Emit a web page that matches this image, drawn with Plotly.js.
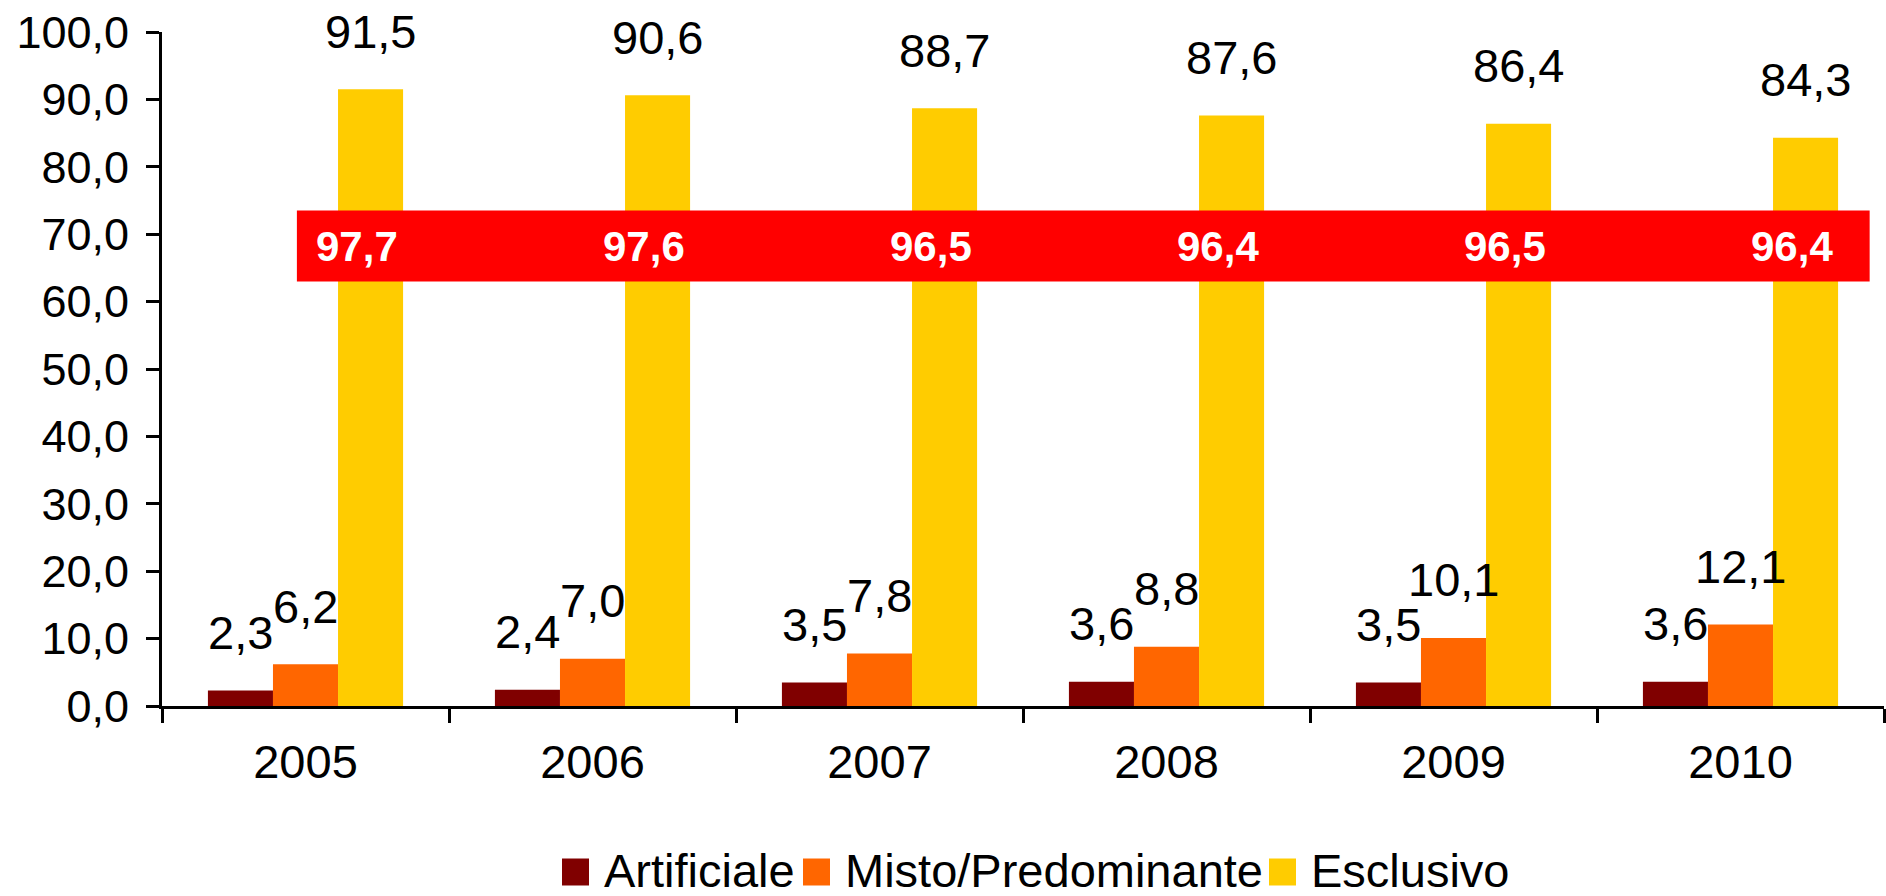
<!DOCTYPE html>
<html>
<head>
<meta charset="utf-8">
<script src="https://cdn.plot.ly/plotly-3.0.1.min.js"></script>
<style>html,body{margin:0;padding:0;background:#fff;}#chart{width:1886px;height:896px;}</style>
</head>
<body>
<div id="chart"></div>
<script>
const years = ['2005', '2006', '2007', '2008', '2009', '2010'];
const artificiale = [2.3, 2.4, 3.5, 3.6, 3.5, 3.6];
const misto = [6.2, 7.0, 7.8, 8.8, 10.1, 12.1];
const esclusivo = [91.5, 90.6, 88.7, 87.6, 86.4, 84.3];
const totale = [97.7, 97.6, 96.5, 96.4, 96.5, 96.4];
const seriesNames = ['Artificiale', 'Misto/Predominante', 'Esclusivo'];
const seriesColors = ['#800000', '#FF6600', '#FFCC00'];
const seriesValues = [artificiale, misto, esclusivo];

const FONT = 'Liberation Sans, Arial, sans-serif';
const W = 1886, H = 896;
const M = {l: 162, r: 2, t: 32, b: 190};
const plotW = W - M.l - M.r, plotH = H - M.t - M.b;
const bargap = 0.32;
const bw = (1 - bargap) / 3;
const fmt = v => v.toFixed(1).replace('.', ',');
const pxX = px => (px - M.l) / plotW;
const pxY = py => (H - M.b - py) / plotH;

const traces = seriesValues.map((vals, k) => ({
  type: 'bar', x: years, y: vals, name: seriesNames[k],
  marker: {color: seriesColors[k], line: {width: 0}},
  showlegend: false, hoverinfo: 'skip'
}));

const annotations = [];
seriesValues.forEach((vals, k) => {
  vals.forEach((v, i) => {
    annotations.push({
      xref: 'x', yref: 'y', x: i + (k - 1) * bw, y: v, yshift: 58,
      text: fmt(v), showarrow: false, xanchor: 'center', yanchor: 'middle',
      font: {family: FONT, size: 47, color: '#000'}
    });
  });
});
totale.forEach((v, i) => {
  annotations.push({
    xref: 'x', yref: 'y', x: i + 0.18, y: 68.2,
    text: '<b>' + fmt(v) + '</b>', showarrow: false, xanchor: 'center', yanchor: 'middle',
    font: {family: FONT, size: 42, color: '#fff'}
  });
});

const shapes = [{
  type: 'rect', xref: 'x', yref: 'y', x0: -0.03, x1: 5.45, y0: 63, y1: 73.5,
  fillcolor: '#FF0000', line: {width: 0}, layer: 'above'
}];

// custom legend (large square swatches)
const legendMarkers = [562, 803, 1269];
const legendY = 872, sw = 27;
seriesNames.forEach((n, k) => {
  shapes.push({
    type: 'rect', xref: 'paper', yref: 'paper',
    x0: pxX(legendMarkers[k]), x1: pxX(legendMarkers[k] + sw),
    y0: pxY(legendY + sw / 2), y1: pxY(legendY - sw / 2),
    fillcolor: seriesColors[k], line: {width: 0}
  });
  annotations.push({
    xref: 'paper', yref: 'paper', x: pxX(legendMarkers[k] + sw + 14), y: pxY(legendY - 2),
    text: n, showarrow: false, xanchor: 'left', yanchor: 'middle', borderpad: 0,
    font: {family: FONT, size: 47, color: '#000'}
  });
});

const layout = {
  width: W, height: H,
  margin: {l: M.l, r: M.r, t: M.t, b: M.b, pad: 0},
  paper_bgcolor: '#fff', plot_bgcolor: '#fff',
  separators: ',.',
  barmode: 'group', bargap: bargap, bargroupgap: 0,
  font: {family: FONT, size: 44, color: '#000'},
  xaxis: {
    type: 'category', range: [-0.5, 5.5], tickson: 'boundaries',
    ticks: 'outside', ticklen: 14, tickwidth: 3, tickcolor: '#000',
    showline: true, linewidth: 3, linecolor: '#000', showgrid: false,
    tickfont: {family: FONT, size: 47, color: '#000'}, ticklabelstandoff: 13
  },
  yaxis: {
    range: [0, 100], tick0: 0, dtick: 10, tickformat: '.1f',
    ticks: 'outside', ticklen: 13, tickwidth: 3, tickcolor: '#000',
    showline: true, linewidth: 3, linecolor: '#000', showgrid: false, zeroline: false,
    tickfont: {family: FONT, size: 45, color: '#000'}, ticklabelstandoff: 8
  },
  showlegend: false,
  shapes: shapes,
  annotations: annotations
};

Plotly.newPlot('chart', traces, layout, {displayModeBar: false, staticPlot: true});
</script>
</body>
</html>
